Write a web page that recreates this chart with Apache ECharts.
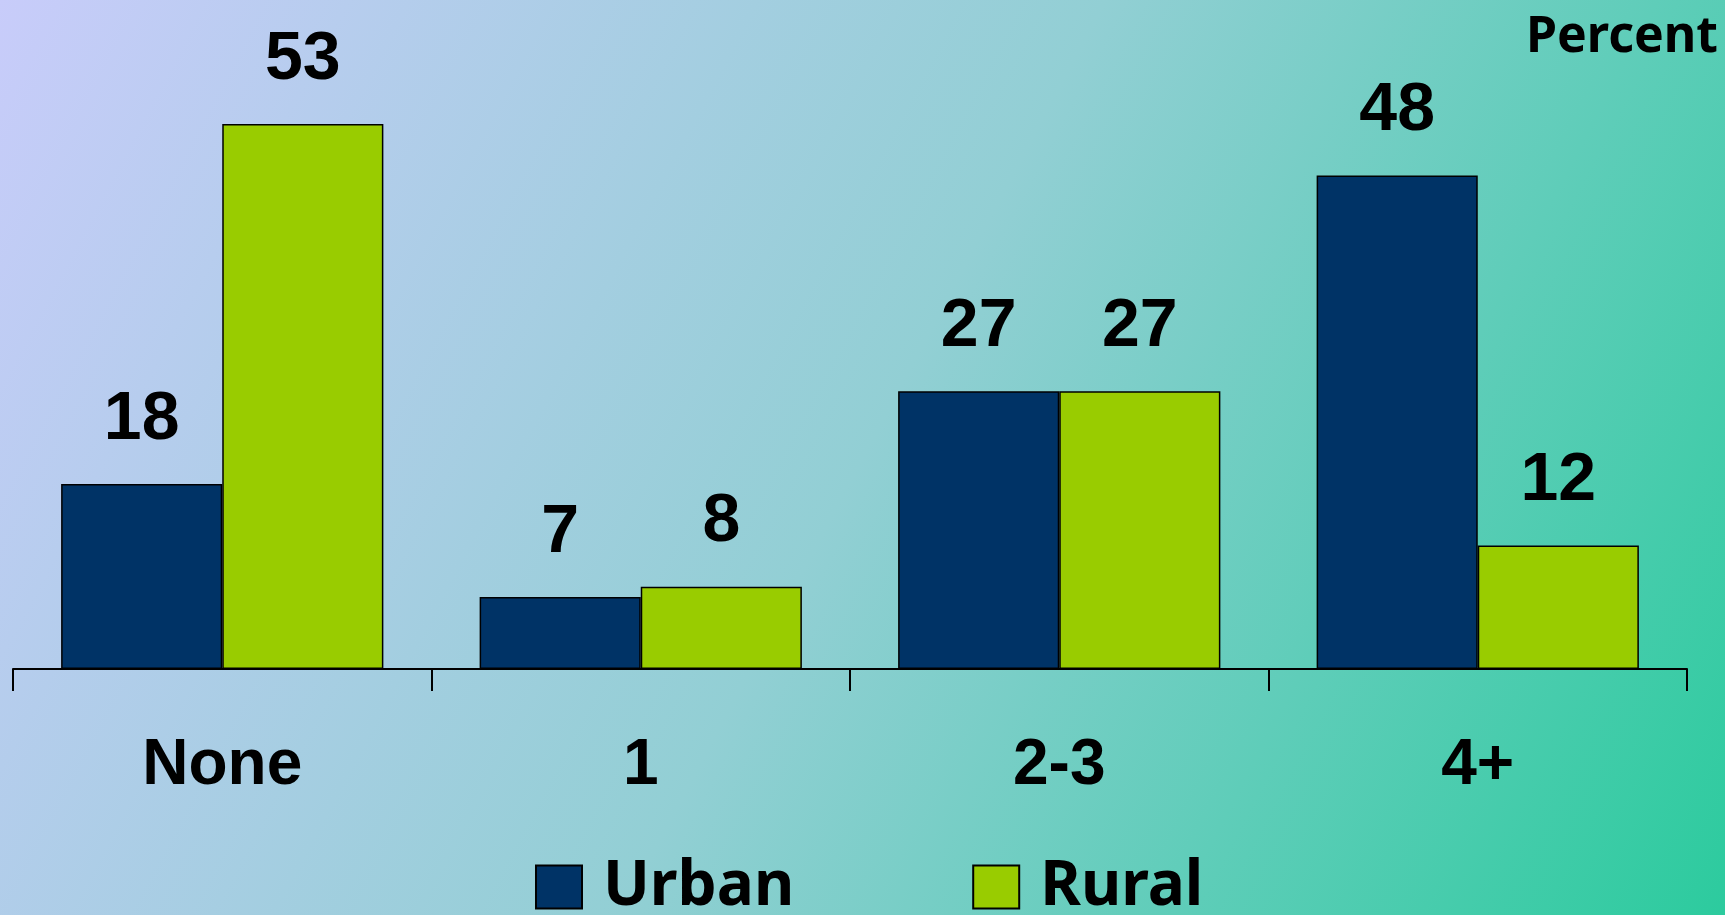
<!DOCTYPE html>
<html>
<head>
<meta charset="utf-8">
<script src="https://cdn.jsdelivr.net/npm/echarts@6/dist/echarts.min.js"></script>
<style>
html,body{margin:0;padding:0;}
#c{width:1725px;height:915px;}
</style>
</head>
<body>
<div id="c"></div>
<script>
const categories = ['None', '1', '2-3', '4+'];
const urban = [18, 7, 27, 48];
const rural = [53, 8, 27, 12];
const seriesNames = ['Urban', 'Rural'];
const unitLabel = 'Percent';

const chart = echarts.init(document.getElementById('c'));
const labelFont = '"Liberation Sans", Arial, sans-serif';
const comicFont = '"Comic Sans MS", "Noto Sans", sans-serif';

const barLabel = {
  show: true,
  position: 'top',
  distance: 30,
  fontSize: 68,
  fontWeight: 'bold',
  fontFamily: labelFont,
  color: '#000'
};

chart.setOption({
  backgroundColor: {
    type: 'linear', x: 0, y: 0, x2: 1, y2: 1,
    colorStops: [
      { offset: 0, color: '#c8ccfa' },
      { offset: 0.5, color: '#92cfd4' },
      { offset: 1, color: '#2ccb9e' }
    ]
  },
  animation: false,
  grid: { left: 13, right: 38, top: 52, bottom: 246 },
  xAxis: {
    type: 'category',
    data: categories,
    axisLine: { lineStyle: { color: '#000', width: 2 } },
    axisTick: { show: true, length: 22, lineStyle: { color: '#000', width: 2 } },
    axisLabel: {
      margin: 65,
      fontSize: 64,
      fontWeight: 'bold',
      fontFamily: labelFont,
      color: '#000'
    }
  },
  yAxis: {
    type: 'value',
    min: 0,
    max: 60,
    show: false
  },
  legend: {
    data: seriesNames,
    icon: 'rect',
    left: 530,
    top: 851,
    itemWidth: 46,
    itemHeight: 43,
    itemGap: 178,
    textStyle: {
      fontSize: 62,
      fontWeight: 'bold',
      fontFamily: comicFont,
      color: '#000',
      padding: [0, 0, 0, 16]
    }
  },
  graphic: [{
    type: 'text',
    right: 7,
    top: 13,
    style: {
      text: unitLabel,
      fontSize: 50,
      fontWeight: 'bold',
      fontFamily: comicFont,
      fill: '#000'
    }
  }],
  series: [
    {
      name: seriesNames[0],
      type: 'bar',
      data: urban,
      barGap: '0%',
      barCategoryGap: '23%',
      itemStyle: { color: '#003366', borderColor: '#000', borderWidth: 1.5 },
      label: barLabel
    },
    {
      name: seriesNames[1],
      type: 'bar',
      data: rural,
      barGap: '0%',
      barCategoryGap: '23%',
      itemStyle: { color: '#99cc00', borderColor: '#000', borderWidth: 1.5 },
      label: barLabel
    }
  ]
});
</script>
</body>
</html>
